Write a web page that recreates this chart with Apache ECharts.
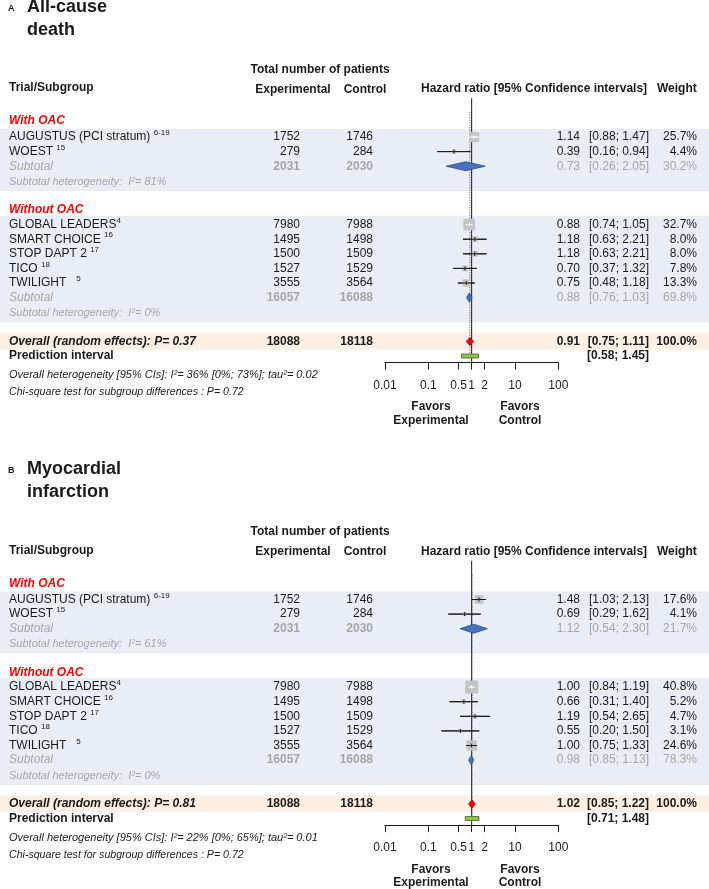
<!DOCTYPE html>
<html>
<head>
<meta charset="utf-8">
<script src="https://cdn.jsdelivr.net/npm/echarts@6/dist/echarts.min.js"></script>
<style>
  html, body { margin: 0; padding: 0; background: #fff; }
  #chart { width: 709px; height: 889px; }
</style>
</head>
<body>
<div id="chart"></div>
<script>
// ---- data ----
const trials = ['AUGUSTUS (PCI stratum)', 'WOEST', 'GLOBAL LEADERS', 'SMART CHOICE', 'STOP DAPT 2', 'TICO', 'TWILIGHT'];
const trialRefs = ['6-19', '15', '4', '16', '17', '18', '5'];
const expN = [1752, 279, 7980, 1495, 1500, 1527, 3555];
const ctrlN = [1746, 284, 7988, 1498, 1509, 1529, 3564];
const subgroups = ['With OAC', 'Without OAC'];
const subExpN = [2031, 16057];
const subCtrlN = [2030, 16088];
const totalN = [18088, 18118];
const tickValues = [0.01, 0.1, 0.5, 1, 2, 10, 100];

// A: all-cause death
const deathHR = [1.14, 0.39, 0.88, 1.18, 1.18, 0.70, 0.75];
const deathLo = [0.88, 0.16, 0.74, 0.63, 0.63, 0.37, 0.48];
const deathHi = [1.47, 0.94, 1.05, 2.21, 2.21, 1.32, 1.18];
const deathW = [25.7, 4.4, 32.7, 8.0, 8.0, 7.8, 13.3];
const deathSubHR = [0.73, 0.88];
const deathSubLo = [0.26, 0.76];
const deathSubHi = [2.05, 1.03];
const deathSubW = [30.2, 69.8];
const deathSubI2 = ['81%', '0%'];
const deathOverall = [0.91, 0.75, 1.11];
const deathPI = [0.58, 1.45];
const deathStats = ['0.37', '36% [0%; 73%]', '0.02', '0.72']; // P, I2, tau2, chi-square P

// B: myocardial infarction
const miHR = [1.48, 0.69, 1.00, 0.66, 1.19, 0.55, 1.00];
const miLo = [1.03, 0.29, 0.84, 0.31, 0.54, 0.20, 0.75];
const miHi = [2.13, 1.62, 1.19, 1.40, 2.65, 1.50, 1.33];
const miW = [17.6, 4.1, 40.8, 5.2, 4.7, 3.1, 24.6];
const miSubHR = [1.12, 0.98];
const miSubLo = [0.54, 0.85];
const miSubHi = [2.30, 1.13];
const miSubW = [21.7, 78.3];
const miSubI2 = ['61%', '0%'];
const miOverall = [1.02, 0.85, 1.22];
const miPI = [0.71, 1.48];
const miStats = ['0.81', '22% [0%; 65%]', '0.01', '0.72'];

// ---- layout (row units along the hidden y axis) ----
const trialRow = [0, 1, 6, 7, 8, 9, 10];
const refGap = [' ', ' ', '', ' ', ' ', ' ', '   '];
const subRow = [2, 11];
const subHetRow = [3.05, 12.05];
const groupRow = [-1.1, 5];
const overallRow = 14;
const piRow = 15;
const colExp = 300, colCtrl = 373, colHR = 580, colCI = 649, colW = 697;

const FONT = '"Liberation Sans", Arial, Helvetica, sans-serif';
const INK = '#1a1a1a', GREY = '#a6a6a6', RED = '#ff0000';

let chart = echarts.init(document.getElementById('chart'));

function f2(v) { return v.toFixed(2); }
function ciText(lo, hi) { return '[' + f2(lo) + '; ' + f2(hi) + ']'; }

function txt(x, r, text, o) {
    return Object.assign({x: x, r: r, text: text, align: 'left', size: 12, weight: 'normal', italic: false, color: INK}, o || {});
}

// every text of one panel
function panelTexts(letter, title, hr, lo, hi, w, sHR, sLo, sHi, sW, sI2, overall, pi, stats) {
    let t = [];
    t.push(txt(8, -8.8, letter, {size: 9, weight: 'bold'}));
    t.push(txt(27, -8.92, title[0], {size: 18, weight: 'bold'}));
    t.push(txt(27, -7.35, title[1], {size: 18, weight: 'bold'}));
    t.push(txt(320, -4.64, 'Total number of patients', {align: 'center', weight: 'bold'}));
    t.push(txt(9, -3.35, 'Trial/Subgroup', {weight: 'bold'}));
    t.push(txt(293, -3.25, 'Experimental', {align: 'center', weight: 'bold'}));
    t.push(txt(365, -3.25, 'Control', {align: 'center', weight: 'bold'}));
    t.push(txt(421, -3.3, 'Hazard ratio [95% Confidence intervals]', {weight: 'bold'}));
    t.push(txt(657, -3.3, 'Weight', {weight: 'bold'}));
    subgroups.forEach(function (g, k) {
        t.push(txt(9, groupRow[k], g, {weight: 'bold', italic: true, color: RED}));
    });
    trials.forEach(function (name, i) {
        let r = trialRow[i];
        t.push(txt(9, r, '{n|' + name + refGap[i] + '}{s|' + trialRefs[i] + '}', {rich: true}));
        t.push(txt(colExp, r, String(expN[i]), {align: 'right'}));
        t.push(txt(colCtrl, r, String(ctrlN[i]), {align: 'right'}));
        t.push(txt(colHR, r, f2(hr[i]), {align: 'right'}));
        t.push(txt(colCI, r, ciText(lo[i], hi[i]), {align: 'right'}));
        t.push(txt(colW, r, w[i].toFixed(1) + '%', {align: 'right'}));
    });
    [0, 1].forEach(function (k) {
        let r = subRow[k];
        t.push(txt(9, r, 'Subtotal', {italic: true, color: GREY}));
        t.push(txt(colExp, r, String(subExpN[k]), {align: 'right', weight: 'bold', color: GREY}));
        t.push(txt(colCtrl, r, String(subCtrlN[k]), {align: 'right', weight: 'bold', color: GREY}));
        t.push(txt(colHR, r, f2(sHR[k]), {align: 'right', color: GREY}));
        t.push(txt(colCI, r, ciText(sLo[k], sHi[k]), {align: 'right', color: GREY}));
        t.push(txt(colW, r, sW[k].toFixed(1) + '%', {align: 'right', color: GREY}));
        t.push(txt(9, subHetRow[k], 'Subtotal heterogeneity:  I\u00b2= ' + sI2[k], {italic: true, color: GREY, size: 11}));
    });
    t.push(txt(9, overallRow, 'Overall (random effects): P= ' + stats[0], {weight: 'bold', italic: true}));
    t.push(txt(colExp, overallRow, String(totalN[0]), {align: 'right', weight: 'bold'}));
    t.push(txt(colCtrl, overallRow, String(totalN[1]), {align: 'right', weight: 'bold'}));
    t.push(txt(colHR, overallRow, f2(overall[0]), {align: 'right', weight: 'bold'}));
    t.push(txt(colCI, overallRow, ciText(overall[1], overall[2]), {align: 'right', weight: 'bold'}));
    t.push(txt(colW, overallRow, '100.0%', {align: 'right', weight: 'bold'}));
    t.push(txt(9, piRow, 'Prediction interval', {weight: 'bold'}));
    t.push(txt(colCI, piRow, ciText(pi[0], pi[1]), {align: 'right', weight: 'bold'}));
    t.push(txt(9, 16.3, 'Overall heterogeneity [95% CIs]: I\u00b2= ' + stats[1] + '; tau\u00b2= ' + stats[2], {italic: true, size: 11}));
    t.push(txt(9, 17.5, 'Chi-square test for subgroup differences : P= ' + stats[3], {italic: true, size: 10.6}));
    t.push(txt(431, 18.5, 'Favors', {align: 'center', weight: 'bold'}));
    t.push(txt(431, 19.4, 'Experimental', {align: 'center', weight: 'bold'}));
    t.push(txt(520, 18.5, 'Favors', {align: 'center', weight: 'bold'}));
    t.push(txt(520, 19.4, 'Control', {align: 'center', weight: 'bold'}));
    return t;
}

function panelSeries(g, texts, hr, lo, hi, w, sHR, sLo, sHi, overall, pi) {
    let ax = {xAxisIndex: g, yAxisIndex: g, silent: true};
    let series = [];
    // background bands
    series.push(Object.assign({
        type: 'custom', z: 1,
        data: [[1, -0.55, 3.7, 0], [1, 5.4, 12.7, 0], [1, 13.4, 14.55, 1]],
        renderItem: function (params, api) {
            let y0 = api.coord([1, api.value(1)])[1];
            let y1 = api.coord([1, api.value(2)])[1];
            return {type: 'rect', shape: {x: 0, y: y0, width: api.getWidth(), height: y1 - y0},
                style: {fill: api.value(3) ? '#fdefe4' : '#e9eef6'}};
        }
    }, ax));
    // reference line at 1 and dotted line at the overall estimate
    series.push(Object.assign({
        type: 'custom', z: 2,
        data: [[1, -2.65, 15.45, 0], [overall[0], -1.7, 15.2, 1]],
        renderItem: function (params, api) {
            let x = api.coord([api.value(0), 0])[0];
            let y0 = api.coord([1, api.value(1)])[1];
            let y1 = api.coord([1, api.value(2)])[1];
            return {type: 'line', shape: {x1: x, y1: y0, x2: x, y2: y1},
                style: api.value(3) ? {stroke: '#555', lineWidth: 1, lineDash: [1, 1.5]} : {stroke: INK, lineWidth: 1}};
        }
    }, ax));
    // study squares + CIs
    series.push(Object.assign({
        type: 'custom', z: 3,
        data: hr.map(function (v, i) { return [v, trialRow[i], lo[i], hi[i], w[i]]; }),
        renderItem: function (params, api) {
            let p = api.coord([api.value(0), api.value(1)]);
            let xc = p[0], y = p[1];
            let xl = api.coord([api.value(2), 0])[0];
            let xh = api.coord([api.value(3), 0])[0];
            let s = 2.05 * Math.sqrt(api.value(4));
            let inside = xl >= xc - s / 2 && xh <= xc + s / 2;
            let lc = inside ? '#ffffff' : INK;
            return {type: 'group', children: [
                {type: 'line', shape: {x1: xl, y1: y, x2: xh, y2: y}, style: {stroke: INK, lineWidth: 1}},
                {type: 'rect', shape: {x: xc - s / 2, y: y - s / 2, width: s, height: s}, style: {fill: '#c4c4c4'}},
                {type: 'line', shape: {x1: xl, y1: y, x2: xh, y2: y}, style: {stroke: lc, lineWidth: 1}},
                {type: 'line', shape: {x1: xc, y1: y - 2, x2: xc, y2: y + 2}, style: {stroke: lc, lineWidth: 1}}
            ]};
        }
    }, ax));
    // subtotal and overall diamonds
    series.push(Object.assign({
        type: 'custom', z: 4,
        data: [[sHR[0], subRow[0], sLo[0], sHi[0], 0], [sHR[1], subRow[1], sLo[1], sHi[1], 0],
               [overall[0], overallRow, overall[1], overall[2], 1]],
        renderItem: function (params, api) {
            let p = api.coord([api.value(0), api.value(1)]);
            let xl = api.coord([api.value(2), 0])[0];
            let xh = api.coord([api.value(3), 0])[0];
            let red = api.value(4) === 1;
            let h = red ? 8 : 9;
            return {type: 'polygon',
                shape: {points: [[xl, p[1]], [p[0], p[1] - h / 2], [xh, p[1]], [p[0], p[1] + h / 2]]},
                style: {fill: red ? '#ff0000' : '#4472c4', stroke: red ? '#8b0000' : '#2b4a80', lineWidth: 0.8}};
        }
    }, ax));
    // prediction interval bar
    series.push(Object.assign({
        type: 'custom', z: 4,
        data: [[pi[0], piRow, pi[1]]],
        renderItem: function (params, api) {
            let a = api.coord([api.value(0), api.value(1)]);
            let b = api.coord([api.value(2), api.value(1)]);
            return {type: 'rect', shape: {x: a[0], y: a[1] - 2, width: b[0] - a[0], height: 4},
                style: {fill: '#8dc63f', stroke: '#4a5e2a', lineWidth: 0.8}};
        }
    }, ax));
    // the table texts
    series.push(Object.assign({
        type: 'custom', z: 5,
        data: texts.map(function (it) { return [1, it.r]; }),
        renderItem: function (params, api) {
            let it = texts[params.dataIndex];
            let y = api.coord([1, it.r])[1];
            let style = {
                text: it.text, fill: it.color, fontSize: it.size, fontFamily: FONT,
                fontWeight: it.weight, fontStyle: it.italic ? 'italic' : 'normal',
                align: it.align, verticalAlign: 'middle'
            };
            if (it.rich) {
                style.rich = {
                    n: {fontSize: 12, fontFamily: FONT, fill: INK, lineHeight: 16},
                    s: {fontSize: 8, fontFamily: FONT, fill: INK, verticalAlign: 'top'}
                };
            }
            return {type: 'text', x: it.x, y: y, style: style};
        }
    }, ax));
    return series;
}

const textsA = panelTexts('A', ['All-cause', 'death'], deathHR, deathLo, deathHi, deathW,
    deathSubHR, deathSubLo, deathSubHi, deathSubW, deathSubI2, deathOverall, deathPI, deathStats);
const textsB = panelTexts('B', ['Myocardial', 'infarction'], miHR, miLo, miHi, miW,
    miSubHR, miSubLo, miSubHi, miSubW, miSubI2, miOverall, miPI, miStats);

function xAxisFor(g) {
    return {
        type: 'log', logBase: 10, gridIndex: g, min: 0.01, max: 100, position: 'bottom',
        axisLine: {show: true, onZero: false, lineStyle: {color: INK, width: 1}},
        axisTick: {show: true, length: 7, customValues: tickValues, lineStyle: {color: INK}},
        axisLabel: {customValues: tickValues, margin: 17, fontSize: 12, color: INK, fontFamily: FONT,
            formatter: function (v) { return String(+(+v).toPrecision(3)); }},
        splitLine: {show: false}
    };
}
function yAxisFor(g) {
    return {type: 'value', gridIndex: g, inverse: true, min: -5, max: 15.45, show: false};
}

let option = {
    animation: false,
    backgroundColor: '#fff',
    grid: [
        {left: 385, width: 173.3, top: 64, height: 298.6, outerBoundsMode: 'none'},
        {left: 385, width: 173.3, top: 526.5, height: 298.6, outerBoundsMode: 'none'}
    ],
    xAxis: [xAxisFor(0), xAxisFor(1)],
    yAxis: [yAxisFor(0), yAxisFor(1)],
    series: panelSeries(0, textsA, deathHR, deathLo, deathHi, deathW, deathSubHR, deathSubLo, deathSubHi, deathOverall, deathPI)
        .concat(panelSeries(1, textsB, miHR, miLo, miHi, miW, miSubHR, miSubLo, miSubHi, miOverall, miPI))
};
option && chart.setOption(option);
</script>
</body>
</html>
